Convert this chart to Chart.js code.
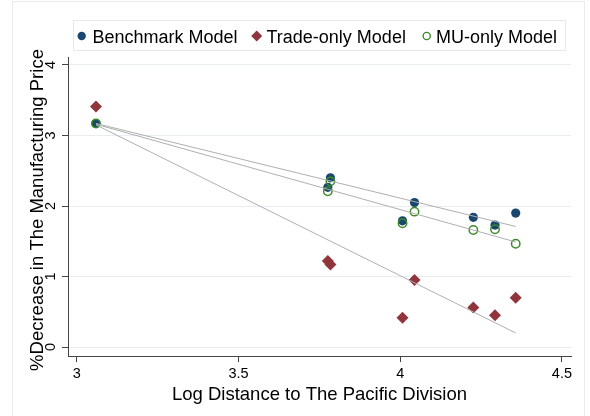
<!DOCTYPE html>
<html><head><meta charset="utf-8">
<script src="https://cdn.jsdelivr.net/npm/chart.js@4/dist/chart.umd.min.js"></script>
<style>html,body{margin:0;padding:0;background:#fff;} #wrap{width:590px;height:416px;position:relative;}</style>
</head><body><div id="wrap"><canvas id="c" width="590" height="416"></canvas></div>
<script>
// ---- data ----
const seriesNames = ["Benchmark Model", "Trade-only Model", "MU-only Model"];
const logDistance = [3.059, 3.784, 3.776, 4.007, 4.044, 4.226, 4.293, 4.357];
const benchmarkValues = [3.17, 2.40, 2.265, 1.79, 2.05, 1.84, 1.73, 1.90];
const muOnlyValues = [3.17, 2.35, 2.21, 1.755, 1.92, 1.66, 1.67, 1.465];
const tradeLogDistance = [3.059, 3.776, 3.784, 4.007, 4.044, 4.226, 4.293, 4.357];
const tradeOnlyValues = [3.41, 1.22, 1.17, 0.415, 0.95, 0.56, 0.45, 0.70];
const fitX = [3.059, 4.357];
const benchmarkFit = [3.17, 1.71];
const tradeFit = [3.15, 0.20];
const muFit = [3.16, 1.49];
const xTicks = [3, 3.5, 4, 4.5];
const yTicks = [0, 1, 2, 3, 4];
const xTitle = "Log Distance to The Pacific Division";
const yTitle = "%Decrease in The Manufacturing Price";

const BLUE = "#1a476f", MAROON = "#90353b", GREEN = "#3b8a2a", FIT = "#b0b0b0";
const FONT = "'Liberation Sans', Arial, Helvetica, sans-serif";

const pts = (xs, ys) => xs.map((x, i) => ({x: x, y: ys[i]}));

const frameAndLabels = {
  id: 'frameAndLabels',
  beforeDraw(chart) {
    const ctx = chart.ctx;
    ctx.save();
    ctx.fillStyle = '#fff';
    ctx.fillRect(0, 0, chart.width, chart.height);
    ctx.strokeStyle = '#e6ecef';
    ctx.lineWidth = 1;
    ctx.strokeRect(12.5, 1.5, 572, 440);
    ctx.restore();
  },
  afterDraw(chart) {
    const ctx = chart.ctx;
    const ys = chart.scales.y;
    ctx.save();
    // y tick labels (rotated)
    ctx.fillStyle = '#000';
    ctx.font = "14.5px " + FONT;
    ctx.textAlign = 'center';
    ctx.textBaseline = 'middle';
    yTicks.forEach(v => {
      const py = ys.getPixelForValue(v);
      ctx.save();
      ctx.translate(51, py);
      ctx.rotate(-Math.PI / 2);
      ctx.fillText(String(v), 0, 0);
      ctx.restore();
    });
    // y title
    ctx.font = "18.5px " + FONT;
    ctx.save();
    ctx.translate(37.5, 210);
    ctx.rotate(-Math.PI / 2);
    ctx.fillText(yTitle, 0, 0);
    ctx.restore();
    // legend
    ctx.strokeStyle = '#e3e9ec';
    ctx.lineWidth = 1;
    ctx.strokeRect(73.5, 20.5, 492, 30);
    const items = [
      {mx: 81.7, tx: 92.5, ds: chart.data.datasets[0]},
      {mx: 256.7, tx: 266.5, ds: chart.data.datasets[1]},
      {mx: 426.7, tx: 436, ds: chart.data.datasets[2]}
    ];
    const my = 36;
    items.forEach((it) => {
      const ds = it.ds;
      ctx.beginPath();
      if (ds.pointStyle === 'rectRot') {
        const r = 5.5;
        ctx.moveTo(it.mx - r, my); ctx.lineTo(it.mx, my - r);
        ctx.lineTo(it.mx + r, my); ctx.lineTo(it.mx, my + r);
        ctx.closePath();
        ctx.fillStyle = ds.backgroundColor; ctx.fill();
      } else if (ds.backgroundColor === 'rgba(0,0,0,0)') {
        ctx.arc(it.mx, my, 3.6, 0, Math.PI * 2);
        ctx.strokeStyle = ds.borderColor; ctx.lineWidth = 1.4; ctx.stroke();
      } else {
        ctx.arc(it.mx, my, 4.2, 0, Math.PI * 2);
        ctx.fillStyle = ds.backgroundColor; ctx.fill();
      }
      ctx.fillStyle = '#000';
      ctx.font = "18px " + FONT;
      ctx.textAlign = 'left';
      ctx.textBaseline = 'alphabetic';
      ctx.fillText(ds.label, it.tx, 43);
    });
    ctx.restore();
  }
};

new Chart(document.getElementById('c'), {
  type: 'scatter',
  data: {
    datasets: [
      {label: seriesNames[0], data: pts(logDistance, benchmarkValues), pointStyle: 'circle',
       pointRadius: 4.6, backgroundColor: BLUE, borderColor: BLUE, borderWidth: 0, order: 4},
      {label: seriesNames[1], data: pts(tradeLogDistance, tradeOnlyValues), pointStyle: 'rectRot',
       pointRadius: 6, backgroundColor: MAROON, borderColor: MAROON, borderWidth: 0, order: 3},
      {label: seriesNames[2], data: pts(logDistance, muOnlyValues), pointStyle: 'circle',
       pointRadius: 4.2, backgroundColor: 'rgba(0,0,0,0)', borderColor: GREEN, borderWidth: 1.5, order: 2},
      {label: 'fit1', type: 'line', data: pts(fitX, benchmarkFit), showLine: true, pointRadius: 0,
       borderColor: FIT, borderWidth: 1, fill: false, order: 1},
      {label: 'fit2', type: 'line', data: pts(fitX, tradeFit), showLine: true, pointRadius: 0,
       borderColor: FIT, borderWidth: 1, fill: false, order: 1},
      {label: 'fit3', type: 'line', data: pts(fitX, muFit), showLine: true, pointRadius: 0,
       borderColor: FIT, borderWidth: 1, fill: false, order: 1}
    ]
  },
  options: {
    responsive: false,
    animation: false,
    devicePixelRatio: 1,
    layout: {padding: {left: 62, right: 19, top: 57, bottom: 8}},
    plugins: {legend: {display: false}, tooltip: {enabled: false}},
    elements: {line: {tension: 0}},
    scales: {
      x: {
        type: 'linear', min: 2.9725, max: 4.528,
        afterBuildTicks: s => { s.ticks = xTicks.map(v => ({value: v})); },
        ticks: {callback: v => String(v), color: '#000', font: {size: 14.5, family: FONT}, padding: 3, maxRotation: 0},
        grid: {drawOnChartArea: false, drawTicks: true, tickLength: 6, tickColor: '#444', color: '#444'},
        border: {display: true, color: '#444', width: 1},
        title: {display: true, text: xTitle, color: '#000', font: {size: 18.5, family: FONT, lineHeight: 1.0}, padding: {top: 0, bottom: 4}}
      },
      y: {
        type: 'linear', min: -0.128, max: 4.113,
        afterBuildTicks: s => { s.ticks = yTicks.map(v => ({value: v})); },
        ticks: {display: false},
        grid: {color: '#e8eef0', lineWidth: 1, drawTicks: true, tickLength: 6, tickColor: '#444'},
        border: {display: true, color: '#444', width: 1}
      }
    }
  },
  plugins: [frameAndLabels]
});
</script>
</body></html>
